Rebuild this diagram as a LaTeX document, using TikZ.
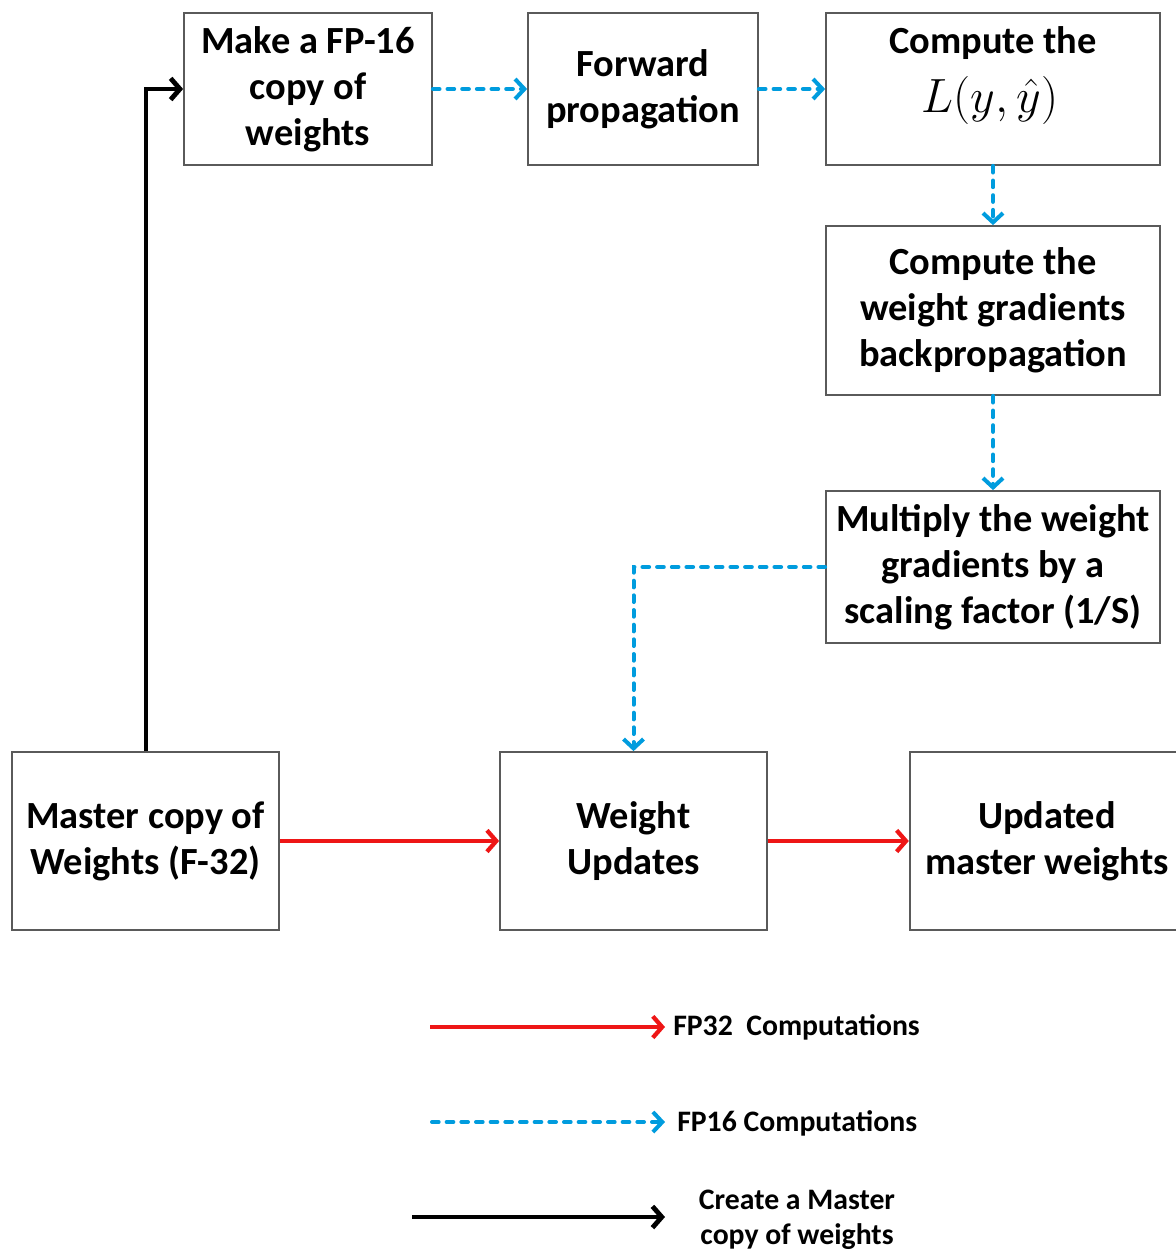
\documentclass[tikz,border=0pt]{standalone}
\usepackage{fontspec}
\setmainfont{Carlito}
\usetikzlibrary{arrows.meta}
\definecolor{fpred}{RGB}{238,22,22}
\definecolor{fpblue}{RGB}{0,156,222}
\definecolor{boxline}{RGB}{90,90,90}
\tikzset{
  box/.style={draw=boxline, line width=1.3pt, fill=white, align=center, inner sep=0pt,
    font=\bfseries\fontsize{28.8}{34.5}\selectfont},
  boxtext/.style={align=center, inner sep=0pt, font=\bfseries\fontsize{28.8}{34.5}\selectfont},
  legtext/.style={align=center, inner sep=0pt, font=\bfseries\fontsize{22.3}{26}\selectfont},
  fp16/.style={draw=fpblue, line width=3pt, line cap=round, dash pattern=on 5pt off 6pt,
    -{Straight Barb[length=7pt,width=15pt,line width=3pt]}},
  fp32/.style={draw=fpred, line width=3.2pt,
    -{Straight Barb[length=7pt,width=16pt,line width=3.2pt]}},
  mastarr/.style={draw=black, line width=3.6pt,
    -{Straight Barb[length=7pt,width=16pt,line width=3.6pt]}},
}
\begin{document}
\begin{tikzpicture}[x=0.75pt,y=-0.75pt]
\useasboundingbox (0,0) rectangle (1175,1252);
% boxes
\node[box, minimum width=186pt, minimum height=114pt] (make) at (308,89) {Make a FP-16\\copy of\\weights};
\node[box, minimum width=172.5pt, minimum height=114pt] (fwd) at (643,89) {Forward\\propagation};
\node[box, minimum width=250.5pt, minimum height=114pt] (loss) at (993,89) {};
\node[boxtext] (losst) at (993,43) {Compute the};
\node[inner sep=0pt, font=\fontsize{24.88}{30}\selectfont, scale=1.45] (lossm) at (990,100) {$L(y,\hat{y})$};
\node[box, minimum width=250.5pt, minimum height=126.75pt] (grad) at (993,310.5) {Compute the\\weight gradients\\backpropagation};
\node[box, minimum width=250.5pt, minimum height=114pt] (mult) at (993,567) {Multiply the weight\\gradients by a\\scaling factor (1/S)};
\node[box, minimum width=200.25pt, minimum height=133.5pt] (master) at (145.5,841) {Master copy of\\Weights (F-32)};
\node[box, minimum width=200.25pt, minimum height=133.5pt] (wu) at (633.5,841) {Weight\\Updates};
\node[box, minimum width=206pt, minimum height=133.5pt] (upd) at (1047,841) {Updated\\master weights};
% connectors
\draw[mastarr] (master.north -| 146,0) -- (146,89) -- (make.west);
\draw[fp16] (make.east) -- (fwd.west);
\draw[fp16] (fwd.east) -- (loss.west);
\draw[fp16] (loss.south) -- (grad.north);
\draw[fp16] (grad.south) -- (mult.north);
\draw[fp16] (mult.west) -- (633.5,567) -- (wu.north);
\draw[fp32] (master.east) -- (wu.west);
\draw[fp32] (wu.east) -- (upd.west);
% legend
\coordinate (l1s) at (430,1027);
\coordinate (l1e) at (665,1027);
\node[legtext, anchor=west] (l1t) at (673,1027) {FP32\ \ Computations};
\coordinate (l2s) at (432,1122);
\coordinate (l2e) at (665,1122);
\node[legtext, anchor=west] (l2t) at (677,1123) {FP16 Computations};
\coordinate (l3s) at (412,1217);
\coordinate (l3e) at (665,1217);
\node[legtext] (l3t) at (797,1220) {Create a Master\\copy of weights};
\draw[fp32] (l1s) -- (l1e);
\draw[fp16] (l2s) -- (l2e);
\draw[mastarr] (l3s) -- (l3e);
\end{tikzpicture}
\end{document}
